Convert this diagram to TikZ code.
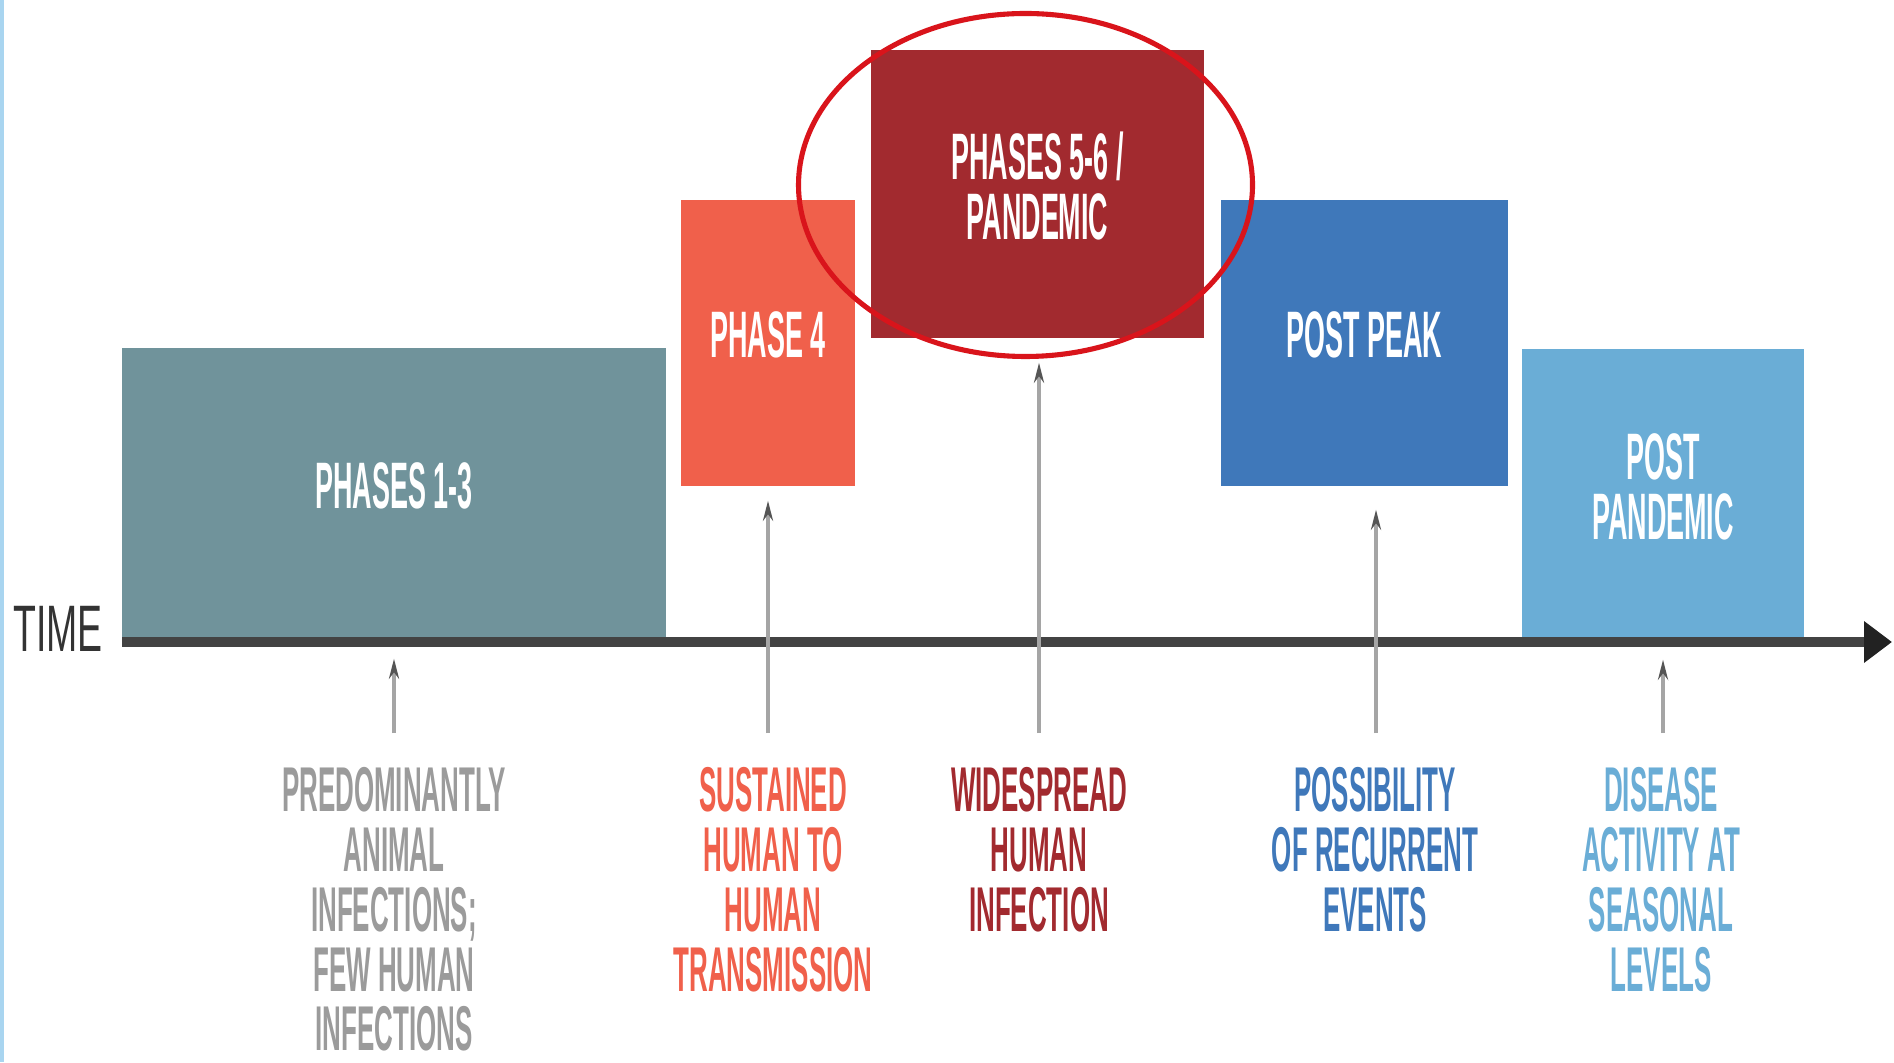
\documentclass[tikz,border=0pt]{standalone}
\usepackage{fontspec}
\setmainfont{Liberation Sans}
\newfontfamily\condfont[FakeStretch=0.41]{Liberation Sans}
\newfontfamily\timefont[FakeStretch=0.57]{Liberation Sans}
\usetikzlibrary{arrows.meta}
\definecolor{cPa}{HTML}{70939B}
\definecolor{cPb}{HTML}{F0604B}
\definecolor{cPc}{HTML}{A22A2F}
\definecolor{cPd}{HTML}{3F78BA}
\definecolor{cPe}{HTML}{6AADD6}
\definecolor{cGrayTxt}{HTML}{9B9B9B}
\definecolor{cAxis}{HTML}{434343}
\definecolor{cRing}{HTML}{D9141B}
\definecolor{cBorder}{HTML}{A9D5F0}
\definecolor{cConn}{HTML}{A5A5A5}
\definecolor{cTime}{HTML}{333333}
\definecolor{cTip}{HTML}{555555}
\definecolor{cAxTip}{HTML}{222222}
\tikzset{
  phasebox/.style={rectangle, inner sep=0pt, text=white, align=center,
    text depth=0.16cm,
    font=\condfont\bfseries\fontsize{18.7}{17.1}\selectfont},
  belowlabel/.style={anchor=north, inner sep=0pt, align=center,
    font=\condfont\bfseries\fontsize{18}{17.0}\selectfont},
  conn/.style={draw=cConn, line width=1pt, -{Stealth[length=0.2cm,width=0.1cm,color=cTip]}},
  axisline/.style={draw=cAxis, line width=2.6pt, -{Triangle[length=0.28cm,width=0.40cm,color=cAxTip]}},
  ring/.style={draw=cRing, line width=1.45pt},
}
\begin{document}
\begin{tikzpicture}
\useasboundingbox (0,0) rectangle (18.94,10.62);
\fill[white] (0,0) rectangle (18.94,10.62);
\fill[cBorder] (0,0) rectangle (0.04,10.62);

% phase boxes
\node[phasebox, fill=cPa, minimum width=5.44cm, minimum height=2.92cm] (p13) at (3.94,5.68) {PHASES 1-3};
\node[phasebox, fill=cPb, minimum width=1.74cm, minimum height=2.86cm] (p4) at (7.68,7.19) {PHASE 4};
\node[phasebox, fill=cPc, minimum width=3.33cm, minimum height=2.88cm] (p56) at (10.375,8.68) {PHASES 5-6 /\\PANDEMIC};
\node[phasebox, fill=cPd, minimum width=2.87cm, minimum height=2.86cm] (pp) at (13.645,7.19) {POST PEAK};
\node[phasebox, fill=cPe, minimum width=2.82cm, minimum height=2.91cm] (post) at (16.63,5.675) {POST\\PANDEMIC};

% time axis
\coordinate (axL) at (1.22,4.20);
\coordinate (axR) at (18.92,4.20);
\draw[axisline] (axL) -- (axR);
\node[text=cTime, inner sep=0pt, font=\timefont\fontsize{18.7}{18}\selectfont] (time) at (0.58,4.33) {TIME};

% highlight ring
\draw[ring] (10.255,8.77) ellipse [x radius=2.27cm, y radius=1.715cm];

% connector start points
\coordinate (ca) at (3.94,3.29);
\coordinate (cb) at (7.68,3.29);
\coordinate (cc) at (10.39,3.29);
\coordinate (cd) at (13.76,3.29);
\coordinate (ce) at (16.63,3.29);

\draw[conn, shorten >=0.18cm] (ca) -- (ca |- p13.south);
\draw[conn, shorten >=0.14cm] (cb) -- (cb |- p4.south);
\draw[conn, shorten >=0.24cm] (cc) -- (cc |- p56.south);
\draw[conn, shorten >=0.23cm] (cd) -- (cd |- pp.south);
\draw[conn, shorten >=0.19cm] (ce) -- (ce |- post.south);

% labels below
\node[belowlabel, text=cGrayTxt] (la) at (3.94,2.95) {PREDOMINANTLY\\ANIMAL\\INFECTIONS;\\FEW HUMAN\\INFECTIONS};
\node[belowlabel, text=cPb] (lb) at (7.73,2.95) {SUSTAINED\\HUMAN TO\\HUMAN\\TRANSMISSION};
\node[belowlabel, text=cPc] (lc) at (10.39,2.95) {WIDESPREAD\\HUMAN\\INFECTION};
\node[belowlabel, text=cPd] (ld) at (13.75,2.95) {POSSIBILITY\\OF RECURRENT\\EVENTS};
\node[belowlabel, text=cPe] (le) at (16.61,2.95) {DISEASE\\ACTIVITY AT\\SEASONAL\\LEVELS};
\end{tikzpicture}
\end{document}
